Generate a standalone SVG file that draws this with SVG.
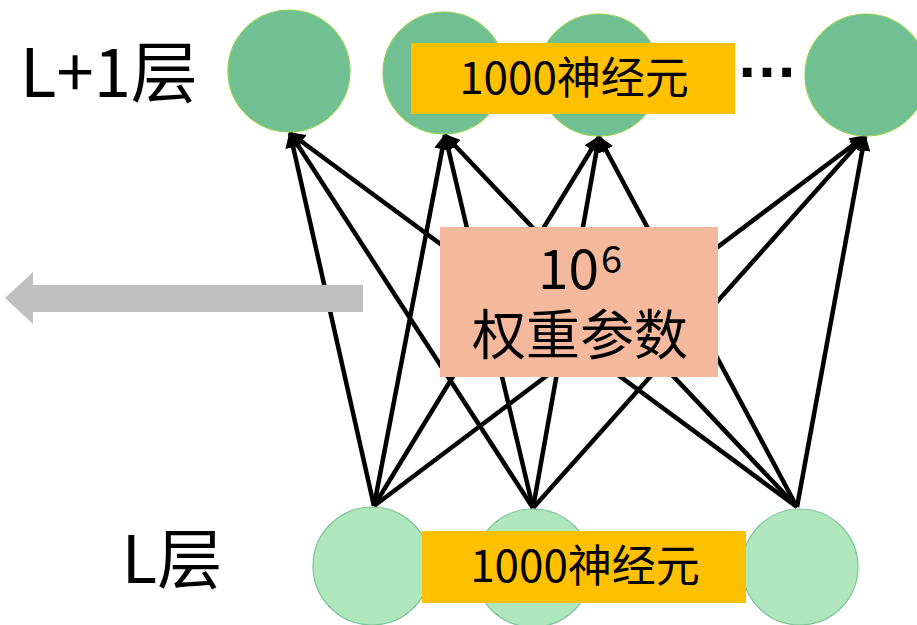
<svg xmlns="http://www.w3.org/2000/svg" width="917" height="625" viewBox="0 0 917 625">
<defs>
<marker id="ah" viewBox="0 0 10 10" refX="9" refY="5" markerWidth="3.6" markerHeight="3.6" orient="auto" markerUnits="strokeWidth">
<path d="M0,0 L10,5 L0,10 z" fill="#000"/>
</marker>
<style>
.top{fill:#70C094;stroke:#92D050;stroke-width:1.2}
.bot{fill:#AFE6BC;stroke:#7DC49B;stroke-width:1.2}
.lbl{fill:#FFC000}
.t{font-family:"Noto Sans CJK SC","Noto Sans",sans-serif;fill:#000;text-anchor:middle}
.conn line{stroke:#000;stroke-width:4.5;marker-end:url(#ah)}
</style>
</defs>
<rect width="917" height="625" fill="#fff"/>
<g id="connectors" class="conn">
<line x1="374" y1="506" x2="290" y2="133"/>
<line x1="374" y1="506" x2="445" y2="135"/>
<line x1="374" y1="506" x2="599" y2="137"/>
<line x1="374" y1="506" x2="865" y2="136"/>
<line x1="533" y1="508" x2="290" y2="133"/>
<line x1="533" y1="508" x2="445" y2="135"/>
<line x1="533" y1="508" x2="599" y2="137"/>
<line x1="533" y1="508" x2="865" y2="136"/>
<line x1="797" y1="507" x2="290" y2="133"/>
<line x1="797" y1="507" x2="445" y2="135"/>
<line x1="797" y1="507" x2="599" y2="137"/>
<line x1="797" y1="507" x2="865" y2="136"/>
</g>
<g id="top1"><circle class="top" cx="289" cy="71" r="61"/></g>
<g id="top2"><circle class="top" cx="444" cy="73" r="61"/></g>
<g id="top3"><circle class="top" cx="599" cy="75" r="61"/></g>
<g id="top4"><circle class="top" cx="866" cy="75" r="61"/></g>
<g id="topLabel"><rect class="lbl" x="411" y="43" width="324" height="71"/><text class="t" x="574" y="94" font-size="44">1000神经元</text></g>
<g id="dots"><text x="767" y="77" font-family="Liberation Sans,sans-serif" font-weight="bold" font-size="62" text-anchor="middle">…</text></g>
<g id="bot1"><circle class="bot" cx="372" cy="566" r="59"/></g>
<g id="bot2"><circle class="bot" cx="533" cy="568" r="59"/></g>
<g id="bot3"><circle class="bot" cx="800" cy="567" r="58"/></g>
<g id="botLabel"><rect class="lbl" x="422" y="531" width="324" height="72"/><text class="t" x="585" y="582" font-size="44">1000神经元</text></g>
<g id="weights"><rect x="440" y="227" width="278" height="150" fill="#F4B89C"/>
<text class="t" x="599" y="289" font-size="55" style="text-anchor:end">10</text>
<text class="t" x="601" y="273" font-size="38" style="text-anchor:start">6</text>
<text class="t" x="580" y="355" font-size="54">权重参数</text></g>
<g id="arrow"><polygon points="5,298 33,272 33,285 363,285 363,312 33,312 33,324" fill="#BFBFBF"/></g>
<g id="layerL1"><text class="t" x="109" y="97" font-size="67">L+1层</text></g>
<g id="layerL"><text class="t" x="172" y="583" font-size="65">L层</text></g>
</svg>
